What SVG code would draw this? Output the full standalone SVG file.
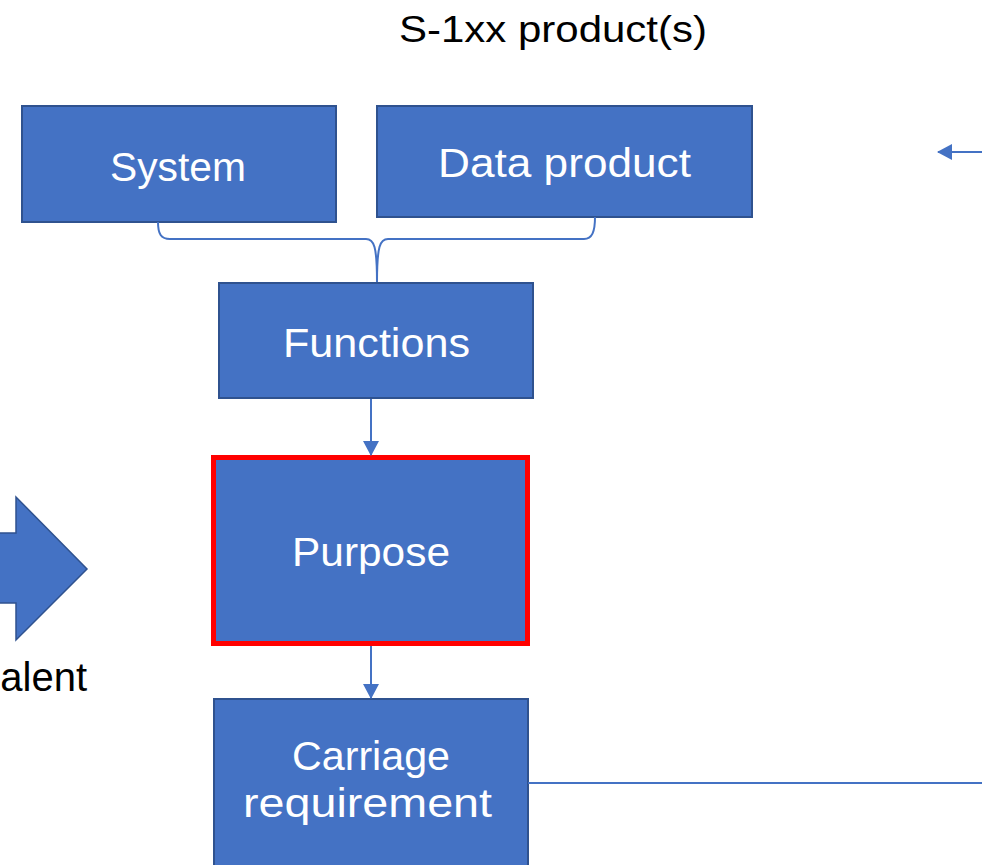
<svg xmlns="http://www.w3.org/2000/svg" width="982" height="865" viewBox="0 0 982 865">
<style>
.box{fill:#4472C4;stroke:#2F528F;stroke-width:2}
.lbl{font-family:"Liberation Sans",Arial,sans-serif;font-size:40px;fill:#FFFFFF;text-anchor:middle}
.blk{font-family:"Liberation Sans",Arial,sans-serif;fill:#000000}
.conn{fill:none;stroke:#4472C4;stroke-width:2}
</style>
<defs>
<marker id="ah" markerWidth="16" markerHeight="16" refX="14" refY="8" orient="auto" markerUnits="userSpaceOnUse">
<path d="M0,0 L15,8 L0,16 Z" fill="#4472C4"/>
</marker>
</defs>
<rect width="982" height="865" fill="#FFFFFF"/>
<text class="blk" x="553" y="42" font-size="37" text-anchor="middle" textLength="308" lengthAdjust="spacingAndGlyphs">S-1xx product(s)</text>
<g id="system">
<rect class="box" x="22" y="106" width="314" height="116"/>
<text class="lbl" x="178" y="181" textLength="136" lengthAdjust="spacingAndGlyphs">System</text>
</g>
<g id="data-product">
<rect class="box" x="377" y="106" width="375" height="111"/>
<text class="lbl" x="564.5" y="177" textLength="253" lengthAdjust="spacingAndGlyphs">Data product</text>
</g>
<g id="functions">
<rect class="box" x="219" y="283" width="314" height="115"/>
<text class="lbl" x="376.5" y="357" textLength="187" lengthAdjust="spacingAndGlyphs">Functions</text>
</g>
<g id="purpose">
<rect x="213.5" y="457.5" width="314" height="186" fill="#4472C4" stroke="#FF0000" stroke-width="5"/>
<text class="lbl" x="371" y="566" textLength="158" lengthAdjust="spacingAndGlyphs">Purpose</text>
</g>
<g id="carriage">
<rect class="box" x="214" y="699" width="314" height="200"/>
<text class="lbl" x="371" y="770" textLength="158" lengthAdjust="spacingAndGlyphs">Carriage</text>
<text class="lbl" x="367.5" y="817" textLength="249" lengthAdjust="spacingAndGlyphs">requirement</text>
</g>
<g id="equivalent">
<polygon points="-5,533 16,533 16,497 87,569 16,640 16,603 -5,603" fill="#4472C4" stroke="#2F528F" stroke-width="1.5"/>
<text class="blk" x="87" y="691" font-size="40" text-anchor="end">alent</text>
</g>
<g id="connectors">
<path class="conn" stroke-width="1.5" d="M158,222 C158,234 161,239 170,239 L366,239 C374,239 377,246 377,282"/>
<path class="conn" stroke-width="1.5" d="M377,282 C377,246 380,239 388,239 L584,239 C592,239 595,232 595,217"/>
<line class="conn" x1="371" y1="399" x2="371" y2="455" marker-end="url(#ah)"/>
<line class="conn" x1="371" y1="646" x2="371" y2="698" marker-end="url(#ah)"/>
<line class="conn" x1="528" y1="783" x2="982" y2="783"/>
<line class="conn" x1="982" y1="152" x2="938" y2="152" marker-end="url(#ah)"/>
</g>
</svg>
